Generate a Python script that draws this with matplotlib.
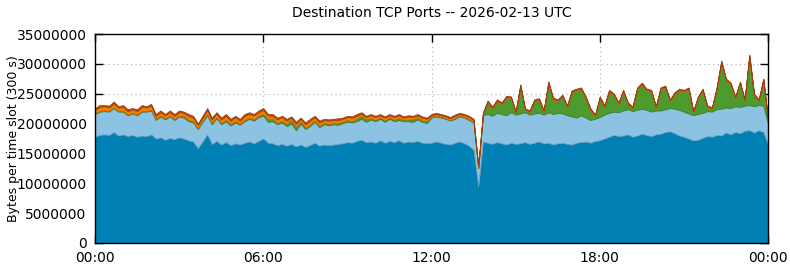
import numpy as np
import matplotlib
matplotlib.use("Agg")
import matplotlib.pyplot as plt

# 10 minute samples over the day, bytes per slot in millions (stacked layers)
dark = [
    17.8, 18.1, 18.2, 18.1, 18.6, 18.0, 18.2, 17.9, 18.1, 17.8,
    18.0, 17.9, 18.2, 17.5, 17.7, 17.3, 17.6, 17.4, 17.7, 17.5,
    17.2, 17.0, 15.9, 17.0, 18.2, 16.6, 17.1, 16.5, 16.9, 16.4,
    16.7, 16.5, 16.8, 17.0, 16.7, 17.1, 17.5, 16.8, 16.7, 16.4,
    16.6, 16.3, 16.6, 16.2, 16.5, 16.1, 16.4, 16.8, 16.3, 16.5,
    16.4, 16.5, 16.6, 16.7, 16.9, 16.8, 17.1, 17.3, 16.9, 17.0,
    16.8, 17.2, 16.8, 17.1, 16.9, 17.2, 16.8, 17.0, 16.9, 17.1,
    16.8, 16.7,
    16.8, 17.0, 16.8, 16.6, 16.5, 16.8, 17.0, 16.7, 16.3, 15.6,
    9.5,
    17.0, 16.8, 16.6, 16.9, 16.7, 16.5, 16.8, 16.6, 16.7, 16.9,
    16.6, 16.8, 17.0, 16.7, 16.8, 16.5, 16.7, 16.8, 16.6, 16.5,
    16.8, 16.9, 17.0, 16.8, 17.1, 17.2, 17.5, 17.8, 18.1, 17.9,
    18.0, 18.2, 17.8, 18.0, 18.3, 18.1, 17.9, 18.2, 18.3, 18.6,
    18.7, 18.4, 18.0, 17.8, 17.5, 17.2, 17.3, 17.6, 17.9, 17.8,
    18.1, 18.0, 18.5, 18.2, 18.6, 18.4, 18.8, 18.9, 18.5, 18.9,
    18.6, 16.5,
]
light = [
    3.8, 3.9, 3.9, 3.9, 4.0, 4.0, 3.8, 3.5, 3.6, 3.6,
    4.0, 4.1, 4.0, 3.1, 3.5, 3.4, 3.6, 3.2, 3.5, 3.5,
    3.2, 3.2, 3.2, 3.3, 3.2, 3.3, 3.8, 3.4, 3.5, 3.3,
    3.5, 3.3, 3.6, 3.8, 3.8, 4.0, 3.8, 3.5, 3.7, 3.5,
    3.6, 3.3, 3.4, 2.7, 3.5, 3.0, 3.2, 3.5, 3.1, 3.4,
    3.3, 3.4, 3.2, 3.4, 3.4, 3.4, 3.3, 3.5, 3.4, 3.7,
    3.6, 3.6, 3.5, 3.7, 3.5, 3.4, 3.6, 3.4, 3.4, 3.6,
    3.5, 3.4,
    4.2, 4.2, 4.2, 4.2, 4.0, 4.0, 4.2, 4.3, 4.3, 4.6,
    3.0,
    4.4, 4.8, 4.7, 4.9, 4.9, 4.9, 5.1, 4.9, 5.0, 5.0,
    4.9, 4.9, 4.8, 4.8, 5.1, 5.1, 5.1, 4.9, 4.8, 4.7,
    4.2, 4.5, 4.0, 3.8, 3.7, 3.9, 4.0, 4.0, 3.9, 4.0,
    4.2, 4.2, 4.3, 4.3, 4.2, 4.2, 4.1, 4.0, 3.9, 3.8,
    3.9, 4.1, 4.3, 4.2, 4.2, 4.2, 4.3, 4.2, 4.2, 4.2,
    4.3, 4.5, 4.2, 4.4, 4.3, 4.4, 4.2, 4.2, 4.4, 4.2,
    4.4, 3.5,
]
green = [
    0.1, 0.1, 0.1, 0.1, 0.1, 0.1, 0.1, 0.1, 0.1, 0.1,
    0.1, 0.1, 0.1, 0.2, 0.1, 0.2, 0.1, 0.2, 0.1, 0.2,
    0.2, 0.2, 0.1, 0.2, 0.2, 0.2, 0.1, 0.2, 0.2, 0.2,
    0.2, 0.1, 0.2, 0.2, 0.2, 0.2, 0.3, 0.5, 0.4, 0.2,
    0.2, 0.3, 0.6, 0.5, 0.3, 0.2, 0.2, 0.2, 0.2, 0.2,
    0.2, 0.2, 0.2, 0.2, 0.3, 0.2, 0.4, 0.5, 0.4, 0.2,
    0.2, 0.2, 0.2, 0.2, 0.2, 0.3, 0.2, 0.3, 0.4, 0.3,
    0.2, 0.3,
    0.1, 0.1, 0.1, 0.1, 0.1, 0.1, 0.1, 0.1, 0.1, 0.1,
    0.1,
    0.1, 1.9, 1.2, 1.9, 1.6, 2.9, 2.3, 0.2, 4.5, 0.3,
    0.4, 2.0, 2.1, 0.4, 4.8, 2.4, 1.9, 2.8, 1.3, 4.0,
    4.5, 4.3, 3.2, 1.6, 0.4, 3.1, 1.2, 3.5, 2.7, 1.3,
    3.1, 0.8, 0.4, 3.4, 4.0, 3.2, 3.3, 0.4, 3.5, 3.6,
    1.1, 2.4, 3.2, 3.3, 4.0, 0.4, 2.6, 3.7, 0.6, 0.4,
    3.3, 7.7, 4.5, 3.9, 1.3, 3.9, 0.7, 8.1, 1.8, 0.6,
    4.2, 0.3,
]
orange = [
    0.6, 0.7, 0.7, 0.6, 0.7, 0.6, 0.7, 0.6, 0.6, 0.6,
    0.7, 0.6, 0.7, 0.5, 0.6, 0.5, 0.6, 0.5, 0.6, 0.6,
    0.7, 0.6, 0.6, 0.5, 0.7, 0.6, 0.7, 0.6, 0.7, 0.6,
    0.7, 0.6, 0.7, 0.6, 0.7, 0.6, 0.7, 0.6, 0.5, 0.6,
    0.7, 0.6, 0.4, 0.6, 0.5, 0.6, 0.7, 0.6, 0.6, 0.5,
    0.6, 0.5, 0.6, 0.5, 0.5, 0.6, 0.5, 0.4, 0.4, 0.5,
    0.5, 0.4, 0.5, 0.4, 0.5, 0.5, 0.4, 0.5, 0.4, 0.4,
    0.5, 0.4,
    0.3, 0.3, 0.3, 0.3, 0.3, 0.4, 0.3, 0.3, 0.4, 0.3,
    0.2,
    0.2, 0.2, 0.2, 0.2, 0.2, 0.2, 0.2, 0.2, 0.2, 0.2,
    0.2, 0.2, 0.2, 0.2, 0.2, 0.2, 0.2, 0.2, 0.2, 0.2,
    0.2, 0.2, 0.2, 0.2, 0.2, 0.2, 0.2, 0.2, 0.2, 0.2,
    0.2, 0.2, 0.2, 0.2, 0.2, 0.2, 0.2, 0.2, 0.2, 0.2,
    0.2, 0.2, 0.2, 0.2, 0.2, 0.2, 0.2, 0.2, 0.2, 0.2,
    0.2, 0.2, 0.2, 0.2, 0.2, 0.2, 0.2, 0.2, 0.2, 0.2,
    0.2, 0.2,
]
red = [
    0.3, 0.3, 0.2, 0.3, 0.3, 0.2, 0.3, 0.3, 0.2, 0.3,
    0.3, 0.2, 0.3, 0.3, 0.3, 0.2, 0.3, 0.3, 0.3, 0.2,
    0.3, 0.3, 0.2, 0.3, 0.3, 0.3, 0.2, 0.3, 0.3, 0.3,
    0.2, 0.3, 0.3, 0.3, 0.2, 0.3, 0.3, 0.2, 0.3, 0.3,
    0.2, 0.3, 0.2, 0.3, 0.2, 0.3, 0.3, 0.2, 0.3, 0.2,
    0.2, 0.2, 0.3, 0.2, 0.2, 0.2, 0.3, 0.2, 0.2, 0.2,
    0.2, 0.2, 0.2, 0.2, 0.2, 0.2, 0.2, 0.2, 0.2, 0.2,
    0.2, 0.2,
    0.2, 0.2, 0.2, 0.2, 0.2, 0.2, 0.2, 0.2, 0.2, 0.2,
    0.1,
    0.15, 0.15, 0.15, 0.15, 0.15, 0.15, 0.15, 0.15, 0.15, 0.15,
    0.15, 0.15, 0.15, 0.15, 0.15, 0.15, 0.15, 0.15, 0.15, 0.15,
    0.15, 0.15, 0.15, 0.15, 0.15, 0.15, 0.15, 0.15, 0.15, 0.15,
    0.15, 0.15, 0.15, 0.15, 0.15, 0.15, 0.15, 0.15, 0.15, 0.15,
    0.15, 0.15, 0.15, 0.15, 0.15, 0.15, 0.15, 0.15, 0.15, 0.15,
    0.15, 0.15, 0.15, 0.15, 0.15, 0.15, 0.15, 0.15, 0.15, 0.15,
    0.15, 0.15,
]

hour_ticks = [0, 6, 12, 18, 24]
hour_labels = ["00:00", "06:00", "12:00", "18:00", "00:00"]
y_ticks = [0, 5000000, 10000000, 15000000, 20000000, 25000000, 30000000, 35000000]

fills = ["#0080b4", "#8cc2e2", "#4d9b2e", "#f08000", "#c85000"]
edges = ["#1a6a90", "#6aa6c8", "#3e7e28", "#c06a10", "#a04010"]

hours = np.arange(len(dark)) / 6.0
layers = np.array([dark, light, green, orange, red]) * 1e6

fig = plt.figure(figsize=(7.9, 2.67), dpi=100)
ax = fig.add_axes([95 / 790, 24 / 267, 673 / 790, 209 / 267])

polys = ax.stackplot(hours, layers, colors=fills)
for p, ec in zip(polys, edges):
    p.set_edgecolor(ec)
    p.set_linewidth(0.6)

ax.set_xlim(0, 24)
ax.set_ylim(0, 35000000)
ax.set_xticks(hour_ticks)
ax.set_xticklabels(hour_labels)
ax.set_yticks(y_ticks)
ax.set_yticklabels([str(v) for v in y_ticks])
ax.grid(True, color="#b0b0b0", linestyle=(0, (1, 3)), linewidth=0.8)
ax.set_axisbelow(True)
ax.tick_params(direction="in", length=6, width=1, top=True, right=True,
               labelsize=10, pad=6)
for s in ax.spines.values():
    s.set_linewidth(1.0)
    s.set_zorder(5)
ax.set_ylabel("Bytes per time slot (300 s)", fontsize=9)
ax.yaxis.set_label_coords(-0.112, 0.5)
ax.set_title("Destination TCP Ports -- 2026-02-13 UTC", fontsize=10, pad=12)

fig.savefig("out.png", dpi=100)
